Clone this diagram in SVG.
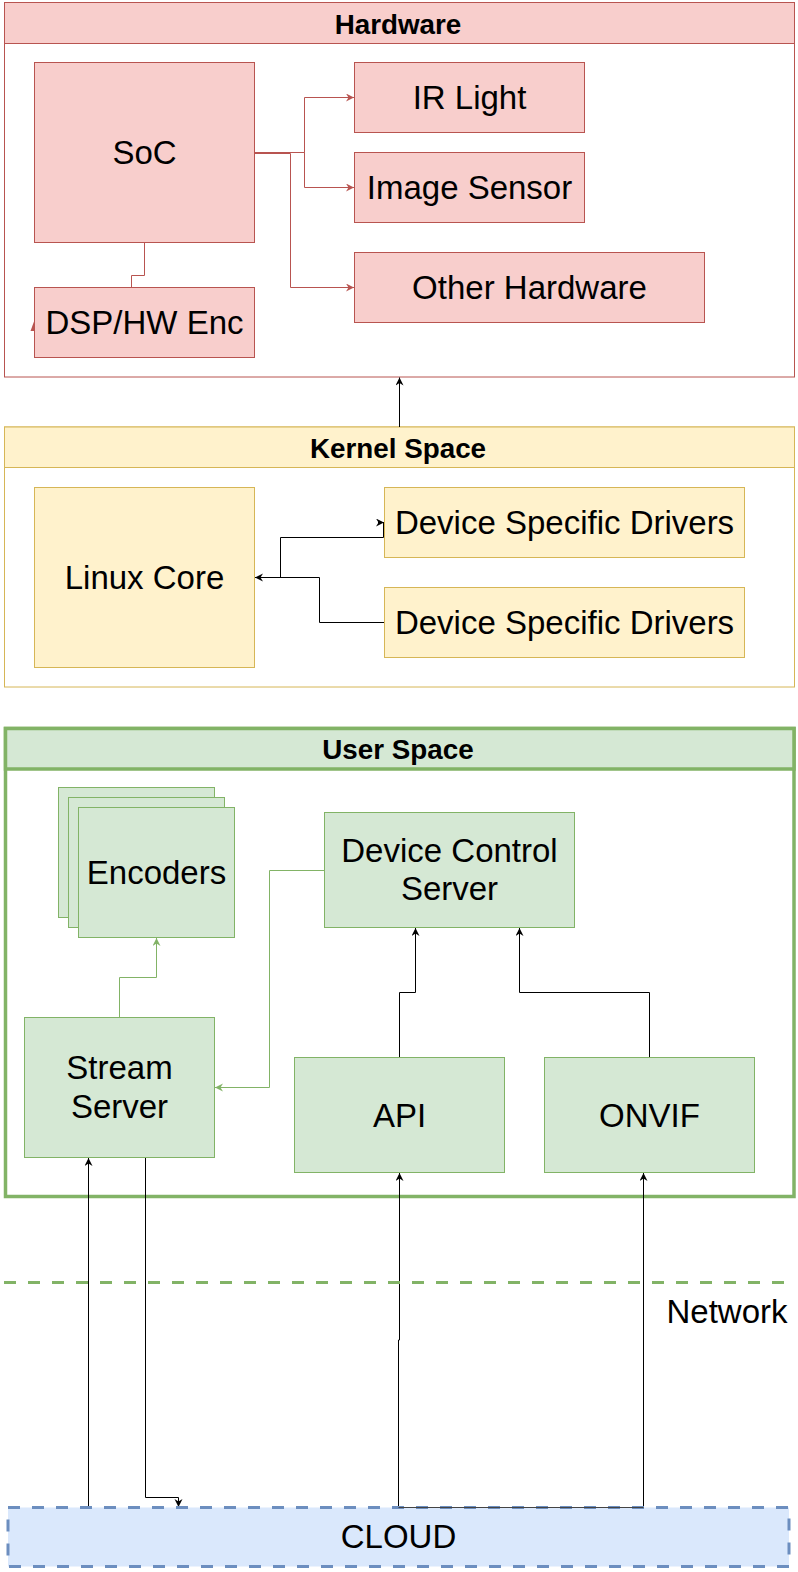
<svg xmlns="http://www.w3.org/2000/svg" width="798" height="1572" viewBox="0 0 798 1572">
<defs>
<style>
text{font-family:"Liberation Sans",Arial,Helvetica,sans-serif;fill:#000;text-anchor:middle}
.t{font-size:33px}
.h{font-size:27.8px;font-weight:bold}
.red{fill:#f8cecc;stroke:#b85450;stroke-width:1}
.yel{fill:#fff2cc;stroke:#d6b656;stroke-width:1}
.grn{fill:#d5e8d4;stroke:#82b366;stroke-width:1}
.cr{fill:none;stroke:#b85450;stroke-width:1}
.cb{fill:none;stroke:#000;stroke-width:1}
.cg{fill:none;stroke:#82b366;stroke-width:1}
</style>
<marker id="ab" markerUnits="userSpaceOnUse" markerWidth="9" markerHeight="9" refX="8" refY="4" orient="auto"><path d="M0,0 L8,4 L0,8 L2.5,4 z" fill="#000"/></marker>
<marker id="ar" markerUnits="userSpaceOnUse" markerWidth="9" markerHeight="9" refX="8" refY="4" orient="auto"><path d="M0,0 L8,4 L0,8 L2.5,4 z" fill="#b85450"/></marker>
<marker id="ag" markerUnits="userSpaceOnUse" markerWidth="9" markerHeight="9" refX="8" refY="4" orient="auto"><path d="M0,0 L8,4 L0,8 L2.5,4 z" fill="#82b366"/></marker>
</defs>

<g id="hardware">
<rect x="4.5" y="2.5" width="790" height="374.5" fill="#fff" stroke="#b85450"/>
<rect x="4.5" y="2.5" width="790" height="41" class="red"/>
<text class="h" x="398" y="33.5">Hardware</text>
</g>
<g id="kernel">
<rect x="4.5" y="427" width="790" height="260" fill="#fff" stroke="#d6b656"/>
<rect x="4.5" y="427" width="790" height="40.5" class="yel"/>
<text class="h" x="398" y="457.5">Kernel Space</text>
</g>
<g id="userspace">
<rect x="5.5" y="728.5" width="788.5" height="468" fill="#fff" stroke="#82b366" stroke-width="3.5"/>
<rect x="5.5" y="728.5" width="788.5" height="40.5" fill="#d5e8d4" stroke="#82b366" stroke-width="3.5"/>
<text class="h" x="398" y="758.5">User Space</text>
</g>

<g id="connectors">
<path class="cr" d="M254,152.5 H304.5 V97.5 H354" marker-end="url(#ar)"/>
<path class="cr" d="M254,152.5 H304.5 V187.5 H354" marker-end="url(#ar)"/>
<path class="cr" d="M254,153.5 H290.5 V287.5 H354" marker-end="url(#ar)"/>
<path class="cr" d="M144.5,242 V275.5 H131.5 V287"/>
<path d="M30.5,331 L34,321.5 L34,331 Z" fill="#b85450"/>
<path class="cb" d="M399.5,427 V377.5" marker-end="url(#ab)"/>
<path class="cb" d="M254.5,577.5 H280.5 V537.5 H383.5 V522.5"/>
<path class="cb" d="M378,522.5 H384" marker-end="url(#ab)"/>
<path class="cb" d="M384,622.5 H319.5 V577.5 H255" marker-end="url(#ab)"/>
<path class="cg" d="M119.5,1017 V977.5 H156.5 V938" marker-end="url(#ag)"/>
<path class="cg" d="M324,870.5 H269.5 V1087.5 H215" marker-end="url(#ag)"/>
<path class="cb" d="M399.5,1057 V992.5 H415.5 V928" marker-end="url(#ab)"/>
<path class="cb" d="M649.5,1057 V992.5 H519.5 V928" marker-end="url(#ab)"/>
<path class="cb" d="M88.5,1507 V1158" marker-end="url(#ab)"/>
<path class="cb" d="M145.5,1157 V1497.5 H178.5 V1507" marker-end="url(#ab)"/>
<path class="cb" d="M398.5,1507 V1340 H399.5 V1173" marker-end="url(#ab)"/>
<path class="cb" d="M643.5,1507 V1173" marker-end="url(#ab)"/>
</g>

<g id="soc"><rect x="34.5" y="62.5" width="220" height="180" class="red"/><text class="t" x="144.5" y="163.5">SoC</text></g>
<g id="dsp"><rect x="34.5" y="287.5" width="220" height="70" class="red"/><text class="t" x="144.5" y="333.5">DSP/HW Enc</text></g>
<g id="irlight"><rect x="354.5" y="62.5" width="230" height="70" class="red"/><text class="t" x="469.5" y="108.5">IR Light</text></g>
<g id="imagesensor"><rect x="354.5" y="152.5" width="230" height="70" class="red"/><text class="t" x="469.5" y="198.5">Image Sensor</text></g>
<g id="otherhw"><rect x="354.5" y="252.5" width="350" height="70" class="red"/><text class="t" x="529.5" y="298.5">Other Hardware</text></g>

<g id="linuxcore"><rect x="34.5" y="487.5" width="220" height="180" class="yel"/><text class="t" x="144.5" y="588.5">Linux Core</text></g>
<g id="dsd1"><rect x="384.5" y="487.5" width="360" height="70" class="yel"/><text class="t" x="564.5" y="533.5">Device Specific Drivers</text></g>
<g id="dsd2"><rect x="384.5" y="587.5" width="360" height="70" class="yel"/><text class="t" x="564.5" y="633.5">Device Specific Drivers</text></g>

<g id="encoders">
<rect x="58.5" y="787.5" width="156" height="130" class="grn"/>
<rect x="68.5" y="797.5" width="156" height="130" class="grn"/>
<rect x="78.5" y="807.5" width="156" height="130" class="grn"/>
<text class="t" x="156.5" y="883.5">Encoders</text>
</g>
<g id="dcs"><rect x="324.5" y="812.5" width="250" height="115" class="grn"/><text class="t" x="449.5" y="861.5">Device Control</text><text class="t" x="449.5" y="900">Server</text></g>
<g id="stream"><rect x="24.5" y="1017.5" width="190" height="140" class="grn"/><text class="t" x="119.5" y="1079">Stream</text><text class="t" x="119.5" y="1118">Server</text></g>
<g id="api"><rect x="294.5" y="1057.5" width="210" height="115" class="grn"/><text class="t" x="399.5" y="1126.5">API</text></g>
<g id="onvif"><rect x="544.5" y="1057.5" width="210" height="115" class="grn"/><text class="t" x="649.5" y="1126.5">ONVIF</text></g>

<g id="network">
<path d="M4,1282.5 H788" stroke="#82b366" stroke-width="3" stroke-dasharray="12 12" fill="none"/>
<text class="t" x="727" y="1323">Network</text>
</g>
<g id="cloud">
<rect x="8" y="1507.5" width="781" height="59" fill="#dae8fc" stroke="#6c8ebf" stroke-width="3" stroke-dasharray="12 12"/>
<path d="M398.5,1507.5 H643.5" stroke="#444" stroke-width="1" fill="none"/>
<text class="t" x="398.5" y="1548">CLOUD</text>
</g>
</svg>
